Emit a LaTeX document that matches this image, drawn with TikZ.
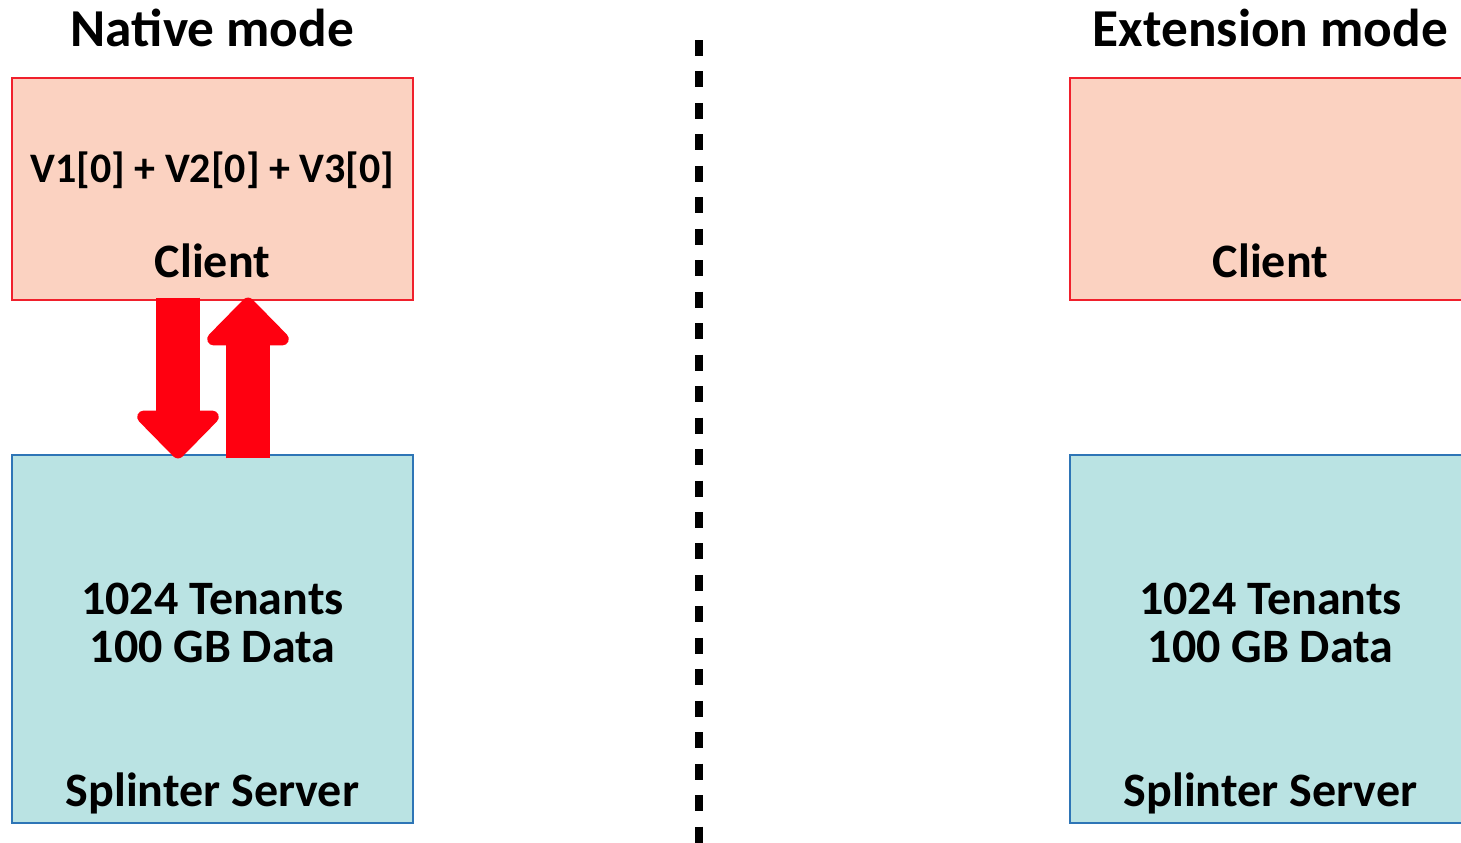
\documentclass[tikz,border=0pt]{standalone}
\usepackage{fontspec}
\setmainfont{Carlito}
\usepackage{xcolor}
\usetikzlibrary{arrows.meta,positioning,calc}

\definecolor{clientfill}{HTML}{FBD2C1}
\definecolor{clientline}{HTML}{F0202C}
\definecolor{serverfill}{HTML}{BAE3E3}
\definecolor{serverline}{HTML}{2E75B6}
\definecolor{flowred}{HTML}{FF0010}

\begin{document}
\begin{tikzpicture}[
    x=0.75pt, y=-0.75pt,
    client/.style={rectangle, draw=clientline, fill=clientfill, line width=0.9pt, minimum width=300.75pt, minimum height=166.5pt, inner sep=0pt},
    server/.style={rectangle, draw=serverline, fill=serverfill, line width=0.9pt, minimum width=300.75pt, minimum height=276pt, inner sep=0pt},
    txt/.style={font=\bfseries\fontsize{36}{36}\selectfont, inner sep=0pt, anchor=base, align=center},
    head/.style={font=\bfseries\fontsize{40}{40}\selectfont, inner sep=0pt, anchor=base},
    expr/.style={font=\bfseries\fontsize{31.5}{32}\selectfont, inner sep=0pt, anchor=base},
    flow/.style={flowred, line width=33pt, -{Triangle[length=38pt, width=72pt, round]}}
]
    \useasboundingbox (0,0) rectangle (1461,843);

    % Native mode
    \node[head] (ntitle) at (212.5,46) {Native mode};
    \node[client] (nclient) at (212.5,189) {};
    \node[expr] (nexpr) at (212.5,182) {V1[0] + V2[0] + V3[0]};
    \node[txt] (nclabel) at (212.5,277) {Client};
    \node[server] (nserver) at (212.5,639) {};
    \node[txt] (ndata) at (212.5,662) {1024 Tenants\\100 GB Data};
    \node[txt] (nslabel) at (212.5,806) {Splinter Server};

    % Requests down, results up
    \draw[flow] ($(nclient.south)+(-34.5,-3)$) -- ($(nserver.north)+(-34.5,4)$);
    \draw[flow] ($(nserver.north)+(35.5,4)$) -- ($(nclient.south)+(35.5,-3)$);

    % Divider
    \coordinate (dtop) at (699,40);
    \coordinate (dbot) at (699,843);
    \draw[line width=6pt, dash pattern=on 12pt off 11.6pt] (dtop) -- (dbot);

    % Extension mode
    \node[head] (etitle) at (1270.5,46) {Extension mode};
    \node[client] (eclient) at (1270.5,189) {};
    \node[txt] (eclabel) at (1270.5,277) {Client};
    \node[server] (eserver) at (1270.5,639) {};
    \node[txt] (edata) at (1270.5,662) {1024 Tenants\\100 GB Data};
    \node[txt] (eslabel) at (1270.5,806) {Splinter Server};
\end{tikzpicture}
\end{document}
